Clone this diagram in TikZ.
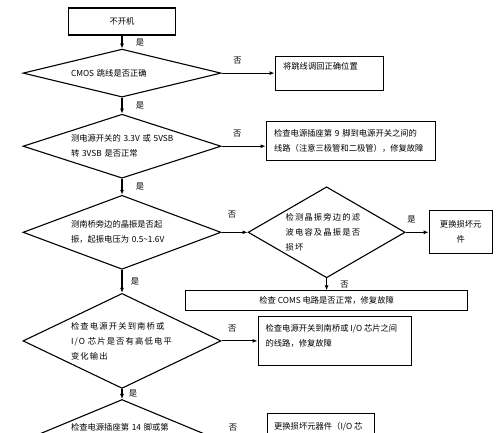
\documentclass[tikz,border=0pt]{standalone}
\usepackage{fontspec}
\setmainfont{Noto Sans CJK SC}
\newfontfamily\widecjk[LetterSpace=14]{Noto Sans CJK SC}
\usetikzlibrary{positioning,arrows.meta,shapes.geometric}
\newcommand{\topalign}[3]{\parbox[c][#2][t]{#1}{#3}}

\begin{document}
\begin{tikzpicture}[x=1pt, y=-1pt, >={Latex[length=5pt,width=4pt]}, line width=1.1pt,
  every node/.style={font=\fontsize{8.3}{15}\selectfont},
  decision/.style={diamond, draw, inner sep=0pt, align=left, text width=102pt},
  process/.style={rectangle, draw, inner sep=0pt, align=center}]
  \useasboundingbox (0,0) rectangle (500,432);
  \clip (0,0) rectangle (500,432);

  % main column
  \node[process, minimum width=107pt, minimum height=27pt] (start) at (122,21.5) {不开机};
  \node[decision, minimum width=198pt, minimum height=48pt, aspect=4.1, below=13pt of start] (cmos) {CMOS~跳线是否正确};
  \node[decision, minimum width=198pt, minimum height=64pt, aspect=3.1, below=16pt of cmos] (power) {测电源开关的~3.3V~或~5VSB\\转~3VSB~是否正常};
  \node[decision, minimum width=198pt, minimum height=74pt, aspect=2.7, below=16pt of power] (osc) {测南桥旁边的晶振是否起\\振，起振电压为~0.5\textasciitilde1.6V};
  \node[decision, minimum width=198pt, minimum height=95pt, aspect=2.1, font=\fontsize{8.3}{15}\selectfont\widecjk, below=23pt of osc] (level) {检查电源开关到南桥或\\I/O~芯片是否有高低电平\\变化输出};
  \node[decision, minimum width=221pt, minimum height=92pt, aspect=2.4, below=10pt of level] (pin) {\topalign{102pt}{44pt}{检查电源插座第~14~脚或第}};

  % right column
  \node[process, inner xsep=8pt, inner ysep=6pt, right=53pt of cmos] (jumper) {\topalign{92pt}{22pt}{将跳线调回正确位置}};
  \node[process, minimum width=169pt, minimum height=39pt, text width=153pt, align=left, right=44pt of power, yshift=5.5pt] (socket) {检查电源插座第~9~脚到电源开关之间的\\线路（注意三极管和二极管），修复故障};
  \node[decision, minimum width=157pt, minimum height=91pt, aspect=1.7, text width=82pt, font=\fontsize{8.3}{15}\selectfont\widecjk, right=26pt of osc] (crystal) {检测晶振旁边的滤\\波电容及晶振是否\\损坏};
  \node[process, minimum width=63pt, minimum height=43pt, text width=52pt, right=23pt of crystal] (replace) {更换损坏元\\件};
  \node[process, minimum width=282pt, minimum height=20pt, below=12pt of crystal] (coms) {检查 COMS 电路是否正常，修复故障};
  \node[process, inner xsep=7.5pt, inner ysep=8pt, right=36pt of level] (bridge) {\topalign{138pt}{33pt}{检查电源开关到南桥或~I/O~芯片之间\\的线路，修复故障}};
  \node[process, inner xsep=7pt, inner ysep=9pt, right=33.5pt of pin] (chip) {\topalign{93pt}{46pt}{更换损坏元器件（I/O~芯}};

  % yes / no
  \draw[->] (start) -- (cmos) node[midway, right=10pt] {是};
  \draw[->] (cmos) -- (power) node[midway, right=10pt] {是};
  \draw[->] (power) -- (osc) node[midway, right=10pt] {是};
  \draw[->] (osc) -- (level) node[midway, right=5pt] {是};
  \draw[->] (level) -- (pin) node[midway, right=3pt] {是};
  \draw[->] (cmos) -- (jumper) node[pos=0.3, above=5pt] {否};
  \draw[->] (power.east) -- (power.east -| socket.west) node[pos=0.36, above=5pt] {否};
  \draw[->] (osc) -- (crystal) node[pos=0.4, above=10pt] {否};
  \draw[->] (crystal) -- (replace) node[pos=0.26, above=5pt] {是};
  \draw[->] (crystal) -- (coms) node[midway, right=10pt] {否};
  \draw[->] (level) -- (bridge) node[pos=0.3, above=5pt] {否};
  \draw[->] (pin) -- (chip) node[pos=0, inner sep=1pt, above=13pt] {否};
\end{tikzpicture}
\end{document}
